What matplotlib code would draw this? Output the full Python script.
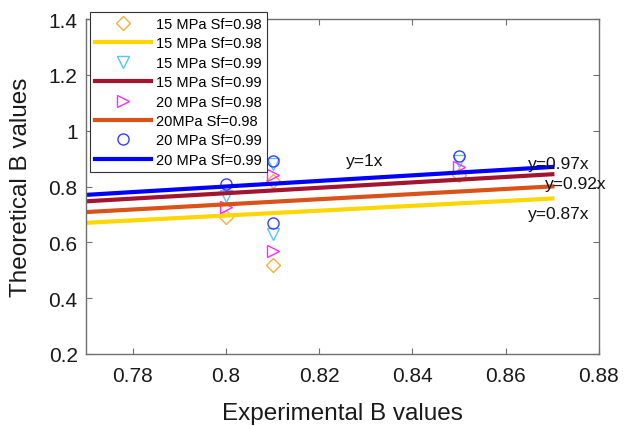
import matplotlib
matplotlib.use("Agg")
import matplotlib.pyplot as plt
import numpy as np

plt.rcParams['font.family'] = ['Liberation Sans', 'DejaVu Sans']

# Experimental B values (shared by every series)
exp_b = [0.80, 0.81, 0.81, 0.85]

# Theoretical B values per case
theo_15_098 = [0.69, 0.52, 0.82, 0.84]
theo_15_099 = [0.765, 0.63, 0.88, 0.89]
theo_20_098 = [0.725, 0.57, 0.84, 0.87]
theo_20_099 = [0.81, 0.67, 0.89, 0.91]

# Fitted slopes (y = k x)
slope_15_098 = 0.87
slope_15_099 = 0.97
slope_20_098 = 0.92
slope_20_099 = 1.00
fit_x = [0.77, 0.87]

fit_labels = ["y=1x", "y=0.97x", "y=0.92x", "y=0.87x"]
fit_label_pos = [(0.8258, 0.892), (0.8647, 0.881), (0.8684, 0.809), (0.8647, 0.702)]

fig = plt.figure(figsize=(6.34, 4.27), dpi=100)
ax = fig.add_axes([86/634, 1 - 355/427, (599-86)/634, (355-20)/427])

fx = np.array(fit_x)
mk = dict(linestyle='none', fillstyle='none', markersize=8, markeredgewidth=1.0)
lw = 3.0

ax.plot(exp_b, theo_15_098, marker='D', color='#F2B03C', label='15 MPa Sf=0.98', **{**mk, 'markersize': 7})
ax.plot(fx, slope_15_098 * fx, color='#FFD700', lw=lw, label='15 MPa Sf=0.98')
ax.plot(exp_b, theo_15_099, marker='v', color='#55C6F2', label='15 MPa Sf=0.99', **mk)
ax.plot(fx, slope_15_099 * fx, color='#A2142F', lw=lw, label='15 MPa Sf=0.99')
ax.plot(exp_b, theo_20_098, marker='>', color='#FF2BFF', label='20 MPa Sf=0.98', **mk)
ax.plot(fx, slope_20_098 * fx, color='#D95319', lw=lw, label='20MPa Sf=0.98')
ax.plot(exp_b, theo_20_099, marker='o', color='#3C3CFF', label='20 MPa Sf=0.99', **mk)
ax.plot(fx, slope_20_099 * fx, color='#0000FF', lw=lw, label='20 MPa Sf=0.99')

for txt, (tx, ty) in zip(fit_labels, fit_label_pos):
    ax.text(tx, ty, txt, fontsize=12.5, ha='left', va='center', color='#111111')

ax.set_xlim(0.77, 0.88)
ax.set_ylim(0.2, 1.4)
ax.set_xticks([0.78, 0.80, 0.82, 0.84, 0.86, 0.88])
ax.set_xticklabels(['0.78', '0.8', '0.82', '0.84', '0.86', '0.88'])
ax.set_yticks([0.2, 0.4, 0.6, 0.8, 1.0, 1.2, 1.4])
ax.set_yticklabels(['0.2', '0.4', '0.6', '0.8', '1', '1.2', '1.4'])

for s in ax.spines.values():
    s.set_color('#707070')
    s.set_linewidth(1.0)
ax.tick_params(direction='in', top=True, right=True, length=4, width=0.8,
               color='#707070', labelsize=15, labelcolor='#1a1a1a')
ax.tick_params(axis='x', pad=9)
ax.tick_params(axis='y', pad=6)

ax.set_xlabel('Experimental B values', fontsize=17.5, color='#1a1a1a', labelpad=12)
ax.set_ylabel('Theoretical B values', fontsize=17.5, color='#1a1a1a', labelpad=12)

leg = ax.legend(loc='upper left', bbox_to_anchor=(0.008, 1.021), borderaxespad=0,
                fontsize=10.5, handlelength=3.8, handletextpad=0.35,
                labelspacing=0.37, borderpad=0.35, fancybox=False, framealpha=1)
leg.get_frame().set_edgecolor('#333333')
leg.get_frame().set_linewidth(0.8)

fig.savefig('out.png', dpi=100)
